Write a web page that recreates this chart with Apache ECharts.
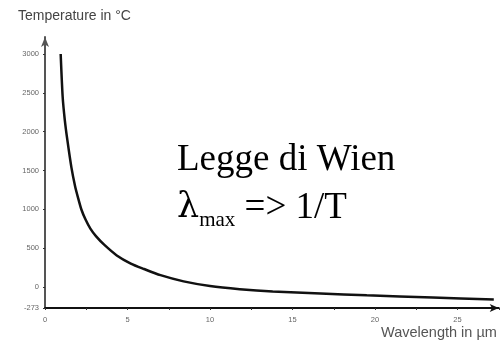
<!DOCTYPE html>
<html>
<head>
<meta charset="utf-8">
<script src="https://cdn.jsdelivr.net/npm/echarts@6/dist/echarts.min.js"></script>
<style>
  html, body { margin: 0; padding: 0; background: #fff; }
  #chart { width: 500px; height: 340px; }
</style>
</head>
<body>
<div id="chart"></div>
<script>
// wavelength (µm) and temperature (°C)
var lambda = [0.95, 1.07, 1.2, 1.35, 1.6, 1.82, 2.0, 2.2, 2.45, 2.75, 3.1, 3.6, 4.35, 5.2, 6.0, 7.0, 8.4, 10.0, 11.8, 13.8, 16.7, 19.5, 23.5, 27.2];
var temp   = [3000, 2450, 2150, 1900, 1540, 1300, 1150, 1000, 870, 750, 650, 540, 405, 300, 230, 150, 70, 10, -30, -60, -85, -110, -138, -165];
var yTicks = [-273, 0, 500, 1000, 1500, 2000, 2500, 3000];

var points = [];
for (var i = 0; i < lambda.length; i++) {
    points.push([lambda[i], temp[i]]);
}

var myChart = echarts.init(document.getElementById('chart'));

var option = {
    animation: false,
    grid: {
        left: 45,
        right: 1.25,
        top: 37,
        bottom: 32,
        containLabel: false,
        outerBoundsMode: 'none'
    },
    xAxis: {
        type: 'value',
        min: 0,
        max: 27.5,
        interval: 2.5,
        splitLine: {show: false},
        axisLine: {
            onZero: false,
            lineStyle: {color: '#111', width: 2},
            symbol: ['none', 'arrow'],
            symbolSize: [6, 9]
        },
        axisTick: {length: 2, lineStyle: {color: '#333'}},
        axisLabel: {
            fontSize: 7.5,
            color: '#666',
            fontFamily: 'Liberation Sans',
            margin: 8,
            formatter: function (v) {
                return v % 5 === 0 ? String(v) : '';
            }
        }
    },
    yAxis: {
        type: 'value',
        min: -273,
        max: 3220,
        splitLine: {show: false},
        axisLine: {
            show: true,
            onZero: false,
            lineStyle: {color: '#555', width: 2},
            symbol: ['none', 'arrow'],
            symbolSize: [6, 10]
        },
        axisTick: {show: true, length: 2, customValues: yTicks, lineStyle: {color: '#333'}},
        axisLabel: {
            customValues: yTicks,
            fontSize: 7.5,
            color: '#666',
            fontFamily: 'Liberation Sans',
            margin: 6,
            formatter: function (v) {
                return String(v);
            }
        }
    },
    graphic: [
        {
            type: 'text',
            x: 18, y: 16,
            style: {text: 'Temperature in °C', font: '14px "Liberation Sans"', fill: '#444', verticalAlign: 'middle'}
        },
        {
            type: 'text',
            x: 381, y: 333,
            style: {text: 'Wavelength in µm', font: '14.5px "Liberation Sans"', fill: '#555', verticalAlign: 'middle'}
        },
        {
            type: 'text',
            x: 177, y: 160,
            style: {text: 'Legge di Wien', font: '37px "Liberation Serif"', fill: '#000', verticalAlign: 'middle'}
        },
        {
            type: 'text',
            x: 177, y: 185,
            style: {
                text: '{g|λ}{s|max}{l| => 1/T}',
                verticalAlign: 'top',
                fill: '#000',
                rich: {
                    g: {fontSize: 35, fontFamily: 'DejaVu Serif', lineHeight: 46, fill: '#000'},
                    l: {fontSize: 37, fontFamily: 'Liberation Serif', lineHeight: 46, fill: '#000'},
                    s: {fontSize: 21, fontFamily: 'Liberation Serif', lineHeight: 18, verticalAlign: 'bottom', fill: '#000'}
                }
            }
        }
    ],
    series: [
        {
            type: 'line',
            data: points,
            smooth: 0.25,
            showSymbol: false,
            clip: false,
            lineStyle: {color: '#111', width: 2.5}
        }
    ]
};

myChart.setOption(option);
</script>
</body>
</html>
